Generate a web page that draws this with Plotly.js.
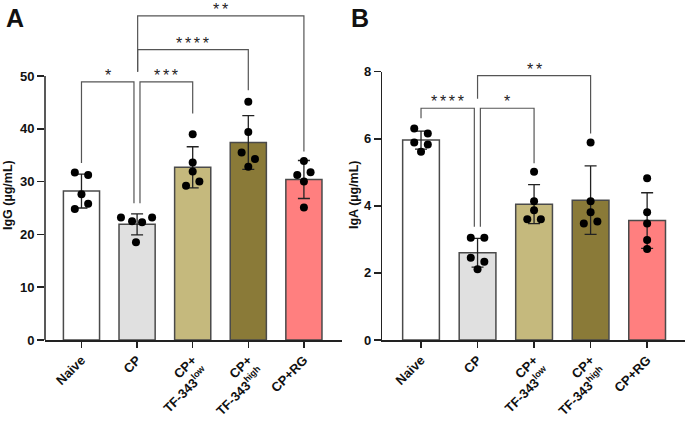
<!DOCTYPE html>
<html>
<head>
<meta charset="utf-8">
<script src="https://cdn.plot.ly/plotly-3.0.1.min.js"></script>
<style>html,body{margin:0;padding:0;background:#fff;}#chart{width:689px;height:422px;}</style>
</head>
<body>
<div id="chart"></div>
<script>
// ---- data ----
const groups = ["Naive", "CP", "CP+<br>TF-343<sup>low</sup>", "CP+<br>TF-343<sup>high</sup>", "CP+RG"];
const barColors = ["#ffffff", "#e0e0e0", "#c5b97d", "#8a7a38", "#ff7f7f"];

const iggMean = [28.2, 21.9, 32.7, 37.4, 30.4];
const iggSD   = [3.2, 2.0, 3.9, 5.1, 3.6];
const iggNaive  = [31.7, 31.25, 27.6, 24.8, 25.8];
const iggCP     = [23.2, 22.5, 22.3, 23.2, 18.5];
const iggTFlow  = [38.95, 33.6, 31.9, 30.0, 29.2];
const iggTFhigh = [45.1, 39.4, 35.5, 34.3, 32.8];
const iggRG     = [33.9, 31.25, 31.75, 30.0, 25.1];

const igaMean = [5.96, 2.60, 4.05, 4.17, 3.56];
const igaSD   = [0.27, 0.43, 0.58, 1.02, 0.83];
const igaNaive  = [6.31, 6.16, 5.89, 5.83, 5.61];
const igaCP     = [3.05, 3.05, 2.45, 2.33, 2.11];
const igaTFlow  = [5.02, 4.14, 3.87, 3.60, 3.60];
const igaTFhigh = [5.89, 4.14, 3.81, 3.47, 3.53];
const igaRG     = [4.82, 3.81, 3.47, 2.98, 2.71];

// significance comparisons: [group from, group to, label]
const compA = [[0, 1, "*"], [1, 2, "***"], [1, 3, "****"], [1, 4, "**"]];
const compB = [[0, 1, "****"], [1, 2, "*"], [1, 3, "**"]];

// ---- layout helpers (positions / styles) ----
const jitterA = [[-0.12, 0.12, 0, -0.12, 0.12], [-0.29, -0.09, 0.09, 0.27, -0.02], [0, 0, 0, 0.12, -0.12], [0, 0, -0.12, 0.12, 0], [0, -0.12, 0.12, 0, 0]];
const jitterB = [[-0.12, 0.12, -0.12, 0.12, 0], [-0.12, 0.12, -0.12, 0.12, 0], [0, 0, 0, -0.12, 0.12], [0, 0, 0, -0.12, 0.12], [0, 0, 0, 0, 0]];
// bracket geometry: [x0, x1, yLine, leg0End, leg1End]
const brA = [[0, 0.944, 48.9, 33.5, 25.9], [1.052, 2, 48.9, 25.9, 42.9], [1.01, 3, 55.0, 50.8, 47.3], [1.01, 4, 61.4, 50.8, 35.7]];
const brB = [[0, 0.943, 6.91, 6.61, 3.38], [1.05, 2, 6.91, 3.38, 5.27], [1.0, 3, 7.88, 7.19, 6.16]];

const FONT = "Arial, 'Liberation Sans', sans-serif";
const W = 689, H = 422;
const idx = [0, 1, 2, 3, 4];

function barTrace(means, sds, xa, ya) {
  return {
    type: "bar", x: idx, y: means, width: 0.65, xaxis: xa, yaxis: ya,
    marker: {color: barColors, line: {color: "#4a4a4a", width: 1.5}},
    error_y: {type: "data", array: sds, visible: true, color: "#222", thickness: 1.3, width: 6},
    hoverinfo: "y", showlegend: false
  };
}
function pointTrace(sets, jit, xa, ya) {
  const xs = [], ys = [];
  sets.forEach((s, g) => s.forEach((v, k) => { xs.push(g + jit[g][k]); ys.push(v); }));
  return {type: "scatter", mode: "markers", x: xs, y: ys, xaxis: xa, yaxis: ya,
    marker: {color: "#000", size: 8}, showlegend: false, cliponaxis: false};
}

const data = [
  barTrace(iggMean, iggSD, "x", "y"),
  pointTrace([iggNaive, iggCP, iggTFlow, iggTFhigh, iggRG], jitterA, "x", "y"),
  barTrace(igaMean, igaSD, "x2", "y2"),
  pointTrace([igaNaive, igaCP, igaTFlow, igaTFhigh, igaRG], jitterB, "x2", "y2")
];

const shapes = [], annotations = [];
function addBrackets(comp, geo, xr, yr) {
  comp.forEach((c, i) => {
    const [x0, x1, y, e0, e1] = geo[i];
    shapes.push({type: "path", xref: xr, yref: yr,
      path: `M ${x0},${e0} L ${x0},${y} L ${x1},${y} L ${x1},${e1}`,
      line: {color: "#555", width: 1.2}});
    annotations.push({xref: xr, yref: yr, x: (x0 + x1) / 2, y: y, yanchor: "bottom", yshift: -4,
      text: c[2].split("").join("\u2006"), showarrow: false,
      font: {family: FONT, size: 16, color: "#222"}});
  });
}
addBrackets(compA, brA, "x", "y");
addBrackets(compB, brB, "x2", "y2");

// y axis line of panel A (only up to 50)
shapes.push({type: "line", xref: "x domain", yref: "y", x0: 0, x1: 0, y0: 0, y1: 50, line: {color: "#222", width: 1.5}});

annotations.push(
  {xref: "paper", yref: "paper", x: 15 / W, y: 1 - 18 / H, text: "A", showarrow: false, xanchor: "center", yanchor: "middle",
   font: {family: FONT, size: 25, color: "#111", weight: "bold"}},
  {xref: "paper", yref: "paper", x: 359.5 / W, y: 1 - 18 / H, text: "B", showarrow: false, xanchor: "center", yanchor: "middle",
   font: {family: FONT, size: 25, color: "#111", weight: "bold"}},
  {xref: "paper", yref: "paper", x: 8 / W, y: 1 - 195 / H, text: "IgG (µg/mL)", textangle: -90, showarrow: false,
   xanchor: "center", yanchor: "middle", font: {family: FONT, size: 12.5, color: "#111", weight: "bold"}},
  {xref: "paper", yref: "paper", x: 354 / W, y: 1 - 195 / H, text: "IgA (µg/mL)", textangle: -90, showarrow: false,
   xanchor: "center", yanchor: "middle", font: {family: FONT, size: 12.5, color: "#111", weight: "bold"}}
);

const tickFont = {family: FONT, size: 13, color: "#111", weight: "bold"};
const xCommon = {tickvals: idx, ticktext: groups, tickangle: -45, ticks: "outside", ticklen: 6, tickwidth: 1.5, tickcolor: "#222",
  showline: true, linecolor: "#222", linewidth: 1.5, zeroline: false, showgrid: false, tickfont: tickFont, fixedrange: true};
const yCommon = {ticks: "outside", ticklen: 7, tickwidth: 1.5, tickcolor: "#222", zeroline: false, showgrid: false,
  tickfont: tickFont, fixedrange: true};

const layout = {
  width: W, height: H, margin: {l: 0, r: 0, t: 0, b: 0},
  paper_bgcolor: "#fff", plot_bgcolor: "rgba(0,0,0,0)",
  bargap: 0, showlegend: false,
  xaxis: Object.assign({}, xCommon, {domain: [45 / W, 342 / W], range: [-0.656, 4.685], anchor: "y"}),
  yaxis: Object.assign({}, yCommon, {domain: [1 - 340 / H, 1 - 10 / H], range: [0, 62.5], tickvals: [0, 10, 20, 30, 40, 50],
    showline: false, anchor: "x"}),
  xaxis2: Object.assign({}, xCommon, {domain: [382.3 / W, 685 / W], range: [-0.685, 4.67], anchor: "y2"}),
  yaxis2: Object.assign({}, yCommon, {domain: [1 - 340 / H, 1 - 71.7 / H], range: [0, 8], tickvals: [0, 2, 4, 6, 8],
    showline: true, linecolor: "#222", linewidth: 1.5, anchor: "x2"}),
  shapes: shapes, annotations: annotations,
  font: {family: FONT}
};

Plotly.newPlot("chart", data, layout, {displayModeBar: false, staticPlot: true});
</script>
</body>
</html>
